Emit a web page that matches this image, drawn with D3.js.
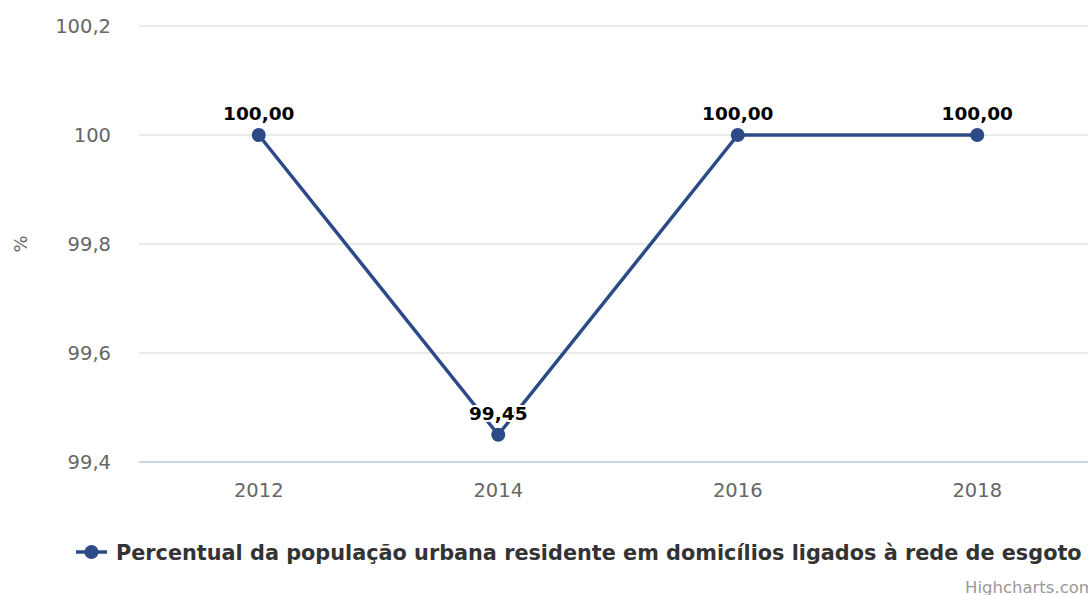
<!DOCTYPE html>
<html>
<head>
<meta charset="utf-8">
<script src="https://cdn.jsdelivr.net/npm/d3@7"></script>
<style>
body { margin: 0; background: #fff; overflow: hidden; }
text { font-family: "DejaVu Sans", sans-serif; }
</style>
</head>
<body>
<script>
var years = ["2012", "2014", "2016", "2018"];
var values = [100.00, 99.45, 100.00, 100.00];
var yTicks = [99.4, 99.6, 99.8, 100, 100.2];
var seriesName = "Percentual da população urbana residente em domicílios ligados à rede de esgoto";

var width = 1088, height = 595;
var lineColor = "#2c4a87";

var svg = d3.select("body")
    .append("svg")
    .attr("width", width)
    .attr("height", height);

var xScale = d3.scaleBand()
    .domain(years)
    .range([139, 1097]);

var yScale = d3.scaleLinear()
    .domain([99.4, 100.2])
    .range([462, 26]);

var fmt = function (v, dec) {
    return v.toFixed(dec).replace(".", ",");
};

// gridlines
svg.selectAll("line.grid")
    .data(yTicks.slice(1))
    .enter()
    .append("line")
    .attr("x1", 139)
    .attr("x2", width)
    .attr("y1", d => yScale(d))
    .attr("y2", d => yScale(d))
    .attr("stroke", "#e3e3e3")
    .attr("stroke-width", 1.5);

// x axis line
svg.append("line")
    .attr("x1", 139)
    .attr("x2", width)
    .attr("y1", yScale(99.4))
    .attr("y2", yScale(99.4))
    .attr("stroke", "#ccd6eb")
    .attr("stroke-width", 2);

// y tick labels
svg.selectAll("text.ytick")
    .data(yTicks)
    .enter()
    .append("text")
    .attr("x", 111)
    .attr("y", d => yScale(d) + 7)
    .attr("text-anchor", "end")
    .attr("font-size", "19.5px")
    .attr("fill", "#666")
    .text(d => d === 100 ? "100" : fmt(d, 1));

// x tick labels
svg.selectAll("text.xtick")
    .data(years)
    .enter()
    .append("text")
    .attr("x", d => xScale(d) + xScale.bandwidth() / 2)
    .attr("y", 497)
    .attr("text-anchor", "middle")
    .attr("font-size", "19.5px")
    .attr("fill", "#666")
    .text(d => d);

// y axis title
svg.append("text")
    .attr("transform", "translate(27,244) rotate(-90)")
    .attr("text-anchor", "middle")
    .attr("font-size", "18px")
    .attr("fill", "#666")
    .text("%");

var cx = (d, i) => xScale(years[i]) + xScale.bandwidth() / 2;

var line = d3.line()
    .x(cx)
    .y(d => yScale(d));

svg.append("path")
    .datum(values)
    .attr("d", line)
    .attr("fill", "none")
    .attr("stroke", lineColor)
    .attr("stroke-width", 3.5)
    .attr("stroke-linejoin", "round");

svg.selectAll("circle.pt")
    .data(values)
    .enter()
    .append("circle")
    .attr("cx", cx)
    .attr("cy", d => yScale(d))
    .attr("r", 7)
    .attr("fill", lineColor);

// data labels
svg.selectAll("text.lbl")
    .data(values)
    .enter()
    .append("text")
    .attr("x", cx)
    .attr("y", d => yScale(d) - 15)
    .attr("text-anchor", "middle")
    .attr("font-size", "18.5px")
    .attr("font-weight", "bold")
    .attr("fill", "#000")
    .attr("stroke", "#fff")
    .attr("stroke-width", 4)
    .attr("stroke-linejoin", "round")
    .attr("paint-order", "stroke")
    .text(d => fmt(d, 2));

// legend
var lg = svg.append("g").attr("transform", "translate(0,552)");
lg.append("line")
    .attr("x1", 76).attr("x2", 107)
    .attr("y1", 0).attr("y2", 0)
    .attr("stroke", lineColor)
    .attr("stroke-width", 3.5);
lg.append("circle")
    .attr("cx", 91.5).attr("cy", 0).attr("r", 7)
    .attr("fill", lineColor);
lg.append("text")
    .attr("x", 116)
    .attr("y", 7.5)
    .attr("font-size", "20.8px")
    .attr("font-weight", "bold")
    .attr("fill", "#333")
    .text(seriesName);

svg.append("text")
    .attr("x", 965)
    .attr("y", 593)
    .attr("font-size", "16.5px")
    .attr("fill", "#999")
    .text("Highcharts.com");
</script>
</body>
</html>
